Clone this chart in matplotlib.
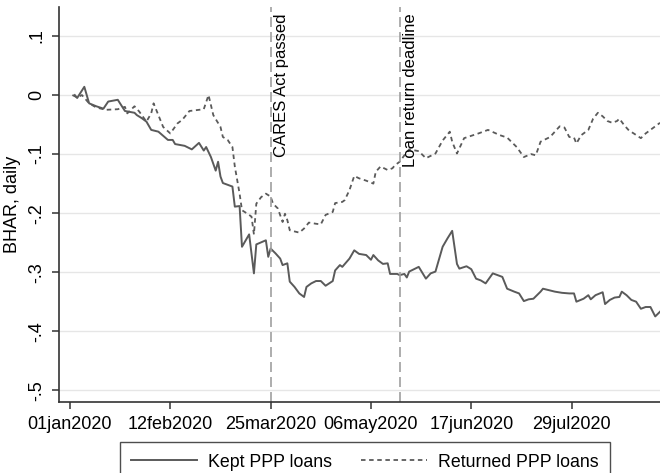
import matplotlib.pyplot as plt
import matplotlib.transforms as mtransforms
import numpy as np
import pandas as pd

plt.rcParams['font.family'] = ['Liberation Sans', 'DejaVu Sans']

# days since 01jan2020 and BHAR
kept_day = [2, 3, 6, 8, 11, 14, 16, 20, 23, 27, 28, 30, 32, 34, 37, 41, 43, 44, 48, 51,
            54, 56, 57, 59, 61, 62, 63, 64, 68, 69, 71, 72, 75, 77, 78, 82, 83, 84, 86, 88,
            89, 91, 92, 94, 96, 98, 99, 101, 103, 105, 107, 110, 111, 113, 114, 117, 119, 121,
            124, 126, 127, 129, 131, 133, 134, 137, 138, 140, 141, 142, 144, 146, 149, 151,
            153, 156, 158, 160, 162, 163, 166, 168, 170, 172, 174, 177, 179, 181, 183, 186,
            188, 190, 192, 194, 197, 198, 201, 203, 206, 209, 211, 212, 215, 217, 218, 220,
            223, 224, 226, 228, 230, 231, 233, 235, 237, 238, 239, 241, 243, 245, 247]
kept_bhar = [0.000, -0.005, 0.014, -0.014, -0.019, -0.023, -0.011, -0.008, -0.027, -0.030,
             -0.034, -0.039, -0.045, -0.059, -0.062, -0.076, -0.076, -0.083, -0.086, -0.092,
             -0.081, -0.094, -0.088, -0.105, -0.128, -0.113, -0.138, -0.149, -0.155, -0.189,
             -0.188, -0.257, -0.236, -0.302, -0.253, -0.246, -0.274, -0.260, -0.268, -0.277,
             -0.288, -0.285, -0.316, -0.325, -0.336, -0.342, -0.325, -0.319, -0.315, -0.315,
             -0.323, -0.315, -0.297, -0.288, -0.291, -0.277, -0.263, -0.269, -0.271, -0.279,
             -0.271, -0.280, -0.286, -0.285, -0.303, -0.303, -0.305, -0.303, -0.309, -0.299,
             -0.295, -0.291, -0.311, -0.302, -0.299, -0.257, -0.243, -0.230, -0.286, -0.294,
             -0.290, -0.295, -0.311, -0.314, -0.319, -0.302, -0.305, -0.308, -0.328, -0.333,
             -0.336, -0.349, -0.346, -0.345, -0.333, -0.328, -0.331, -0.333, -0.335, -0.336,
             -0.336, -0.350, -0.345, -0.339, -0.346, -0.339, -0.334, -0.354, -0.347, -0.343,
             -0.342, -0.333, -0.339, -0.347, -0.350, -0.356, -0.362, -0.359, -0.359, -0.375,
             -0.367]

ret_day = [1, 3, 5, 8, 11, 15, 20, 23, 24, 27, 29, 32, 34, 35, 37, 39, 42, 45, 47, 50,
           56, 58, 60, 63, 64, 66, 68, 69, 71, 72, 75, 76, 77, 78, 80, 82, 84, 85, 87, 89,
           90, 91, 92, 94, 96, 98, 100, 103, 105, 107, 110, 111, 114, 115, 117, 119, 121,
           124, 127, 128, 130, 133, 135, 136, 138, 140, 142, 146, 149, 151, 153, 156, 159,
           160, 162, 165, 168, 171, 175, 180, 183, 187, 190, 193, 195, 197, 201, 205, 207,
           209, 211, 212, 214, 217, 219, 221, 223, 225, 227, 229, 230, 232, 234, 236, 239,
           241, 243, 245, 247]
ret_bhar = [0.000, -0.004, 0.000, -0.014, -0.021, -0.025, -0.024, -0.020, -0.031, -0.019,
            -0.028, -0.045, -0.031, -0.014, -0.034, -0.054, -0.065, -0.048, -0.042, -0.027,
            -0.024, 0.000, -0.034, -0.054, -0.071, -0.076, -0.088, -0.121, -0.167, -0.195,
            -0.203, -0.206, -0.236, -0.184, -0.173, -0.167, -0.172, -0.184, -0.192, -0.215,
            -0.201, -0.212, -0.229, -0.231, -0.233, -0.226, -0.216, -0.218, -0.219, -0.203,
            -0.198, -0.183, -0.181, -0.178, -0.161, -0.137, -0.141, -0.145, -0.150, -0.130,
            -0.121, -0.127, -0.124, -0.119, -0.113, -0.102, -0.092, -0.095, -0.107, -0.103,
            -0.099, -0.077, -0.062, -0.079, -0.099, -0.073, -0.069, -0.065, -0.059, -0.068,
            -0.072, -0.088, -0.105, -0.100, -0.102, -0.079, -0.071, -0.053, -0.055, -0.071,
            -0.072, -0.082, -0.068, -0.059, -0.040, -0.030, -0.036, -0.044, -0.047, -0.044,
            -0.040, -0.051, -0.060, -0.065, -0.073, -0.065, -0.059, -0.053, -0.047]

xtick_labels = ['01jan2020', '12feb2020', '25mar2020', '06may2020', '17jun2020', '29jul2020']
ytick_vals = [0.1, 0, -0.1, -0.2, -0.3, -0.4, -0.5]
ytick_labels = ['.1', '0', '-.1', '-.2', '-.3', '-.4', '-.5']
events = ['25mar2020', '18may2020']
event_labels = ['CARES Act passed', 'Loan return deadline']

start = pd.Timestamp('2020-01-01')
kept_dates = start + pd.to_timedelta(kept_day, unit='D')
ret_dates = start + pd.to_timedelta(ret_day, unit='D')

fig = plt.figure(figsize=(6.6, 4.73), dpi=100)
ax = fig.add_axes([0.0894, 0.150, 0.9106, 0.835])

ax.set_yticks(ytick_vals)
ax.set_yticklabels(ytick_labels, rotation=90, va='center')
ax.grid(axis='y', color='#e6e6e6', linewidth=1)
ax.set_axisbelow(True)

ax.plot(kept_dates, kept_bhar, color='#5a5a5a', linewidth=1.4, label='Kept PPP loans')
ax.plot(ret_dates, ret_bhar, color='#5a5a5a', linewidth=1.3, linestyle=(0, (2.5, 2)),
        label='Returned PPP loans')

trans = mtransforms.blended_transform_factory(ax.transData, ax.transAxes)
for d, lab in zip(events, event_labels):
    dd = pd.to_datetime(d, format='%d%b%Y')
    ax.axvline(dd, color='#a0a0a0', linewidth=1.2, linestyle=(0, (6, 3)))
    ax.text(dd + pd.Timedelta(days=1.6), 0.985, lab, transform=trans, rotation=90,
            ha='left', va='top', fontsize=12)

xt = [pd.to_datetime(s, format='%d%b%Y') for s in xtick_labels]
ax.set_xticks(xt)
ax.set_xticklabels(xtick_labels)
ax.set_xlim(start - pd.Timedelta(days=4.6), start + pd.Timedelta(days=247))
ax.set_ylim(-0.52, 0.149)

for s in ['top', 'right']:
    ax.spines[s].set_visible(False)
for s in ['left', 'bottom']:
    ax.spines[s].set_color('#333333')
    ax.spines[s].set_linewidth(1.2)
ax.tick_params(axis='both', labelsize=13, length=5, width=1.1, color='#333333', pad=5)
ax.set_ylabel('BHAR, daily', fontsize=13, labelpad=5)

fig.legend(loc='upper center', bbox_to_anchor=(0.553, 0.0655), ncol=2, fontsize=12.8,
           handlelength=3.7, handletextpad=0.65, columnspacing=1.6, fancybox=False,
           frameon=True, edgecolor='#222222', borderpad=0.65, borderaxespad=0)

fig.savefig('out.png', dpi=100)
